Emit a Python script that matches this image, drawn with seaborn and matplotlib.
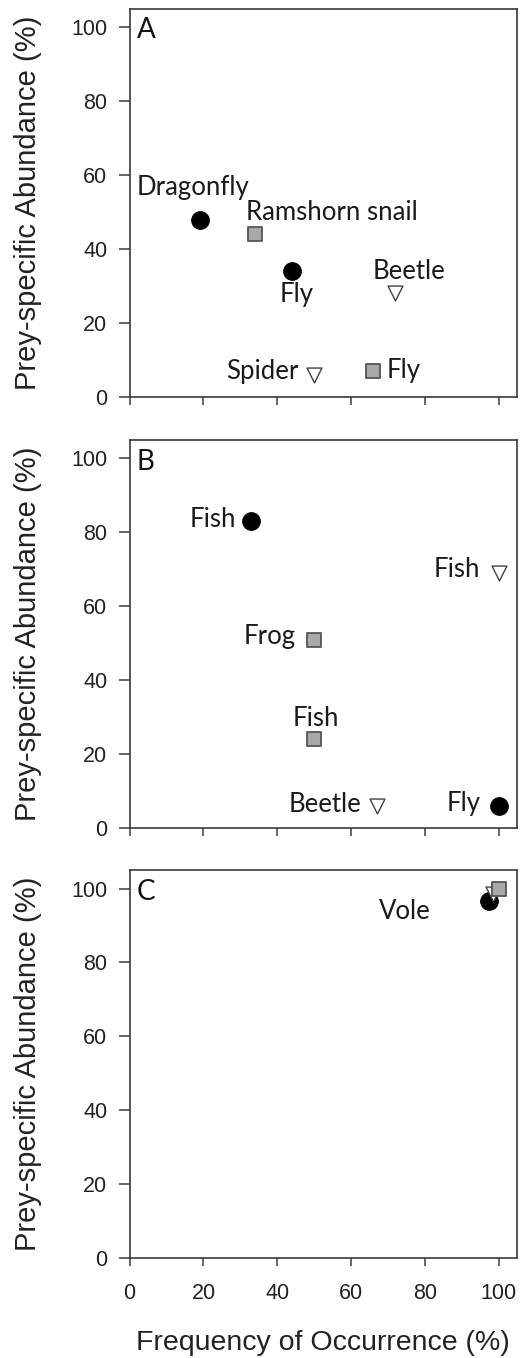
import numpy as np
import pandas as pd
import matplotlib.pyplot as plt
import seaborn as sns

# values
panel = ["A"] * 6 + ["B"] * 6 + ["C"] * 3
freq = [19, 34, 44, 72, 50, 66,
        33, 100, 50, 50, 67, 100,
        97.5, 98.5, 100]
abund = [48, 44, 34, 28, 6, 7,
         83, 69, 51, 24, 6, 6,
         96.5, 98.5, 100]
group = ["G1", "G2", "G1", "G3", "G3", "G2",
         "G1", "G3", "G2", "G2", "G3", "G1",
         "G1", "G3", "G2"]
prey = ["Dragonfly", "Ramshorn snail", "Fly", "Beetle", "Spider", "Fly",
        "Fish", "Fish", "Frog", "Fish", "Beetle", "Fly",
        "Vole", "", ""]

df = pd.DataFrame({"panel": panel, "freq": freq, "abund": abund,
                   "group": group, "prey": prey})

# label placement (offset in points from the marker, horizontal alignment)
label_pos = [(-5, 23, "center"), (-6.5, 15.5, "left"), (3, -17, "center"),
             (10, 16, "center"), (-11, 2, "right"), (9.5, 0.5, "left"),
             (-11, 1, "right"), (-13, 2.5, "right"), (-13, 2, "right"),
             (1.5, 15, "center"), (-11, 1, "right"), (-13, 1.5, "right"),
             (-61, -7, "center"), (0, 0, "center"), (0, 0, "center")]

sns.set_style("ticks")
plt.rcParams["font.family"] = ["Liberation Sans", "DejaVu Sans"]
plt.rcParams["axes.edgecolor"] = "#3a3a3a"
plt.rcParams["xtick.color"] = "#3a3a3a"
plt.rcParams["ytick.color"] = "#3a3a3a"

styles = {
    "G1": dict(marker="o", color="black", edgecolor="black", s=160, linewidth=0.8),
    "G3": dict(marker="v", color="white", edgecolor="#404040", s=115, linewidth=1.0),
    "G2": dict(marker="s", color="#a8a8a8", edgecolor="#555555", s=115, linewidth=1.3),
}

fig = plt.figure(figsize=(5.26, 13.58), dpi=100)
bottoms = {"A": 0.7077, "B": 0.3903, "C": 0.0736}
lab_font = ["Lato", "DejaVu Sans"]

for p in ["A", "B", "C"]:
    ax = fig.add_axes([0.2465, bottoms[p], 0.7365, 0.2857])
    sub = df[df["panel"] == p]
    for g in ["G1", "G3", "G2"]:
        part = sub[sub["group"] == g]
        if len(part):
            sns.scatterplot(data=part, x="freq", y="abund", ax=ax, legend=False,
                            zorder=3, **styles[g])
    for i, row in sub.iterrows():
        if row["prey"]:
            dx, dy, ha = label_pos[i]
            ax.annotate(row["prey"], (row["freq"], row["abund"]),
                        xytext=(dx, dy), textcoords="offset points",
                        ha=ha, va="center", fontsize=18.5, family=lab_font,
                        color="#1a1a1a")
    ax.set_xlim(0, 105)
    ax.set_ylim(0, 105)
    ax.set_xticks(np.arange(0, 101, 20))
    ax.set_yticks(np.arange(0, 101, 20))
    ax.tick_params(axis="y", length=8, width=1.1, pad=8, labelsize=15.5,
                   labelcolor="#222222")
    ax.tick_params(axis="x", length=6, width=1.1, pad=12, labelsize=15.5,
                   labelcolor="#222222")
    for sp in ax.spines.values():
        sp.set_linewidth(1.2)
    ax.set_ylabel("Prey-specific Abundance (%)", fontsize=21, color="#222222")
    ax.yaxis.set_label_coords(-0.225, 0.5)
    if p == "C":
        ax.set_xlabel("Frequency of Occurrence (%)", fontsize=20.5,
                      color="#222222")
        ax.xaxis.set_label_coords(0.5, -0.185)
        ax.xaxis.label.set_va("top")
    else:
        ax.set_xlabel("")
        ax.set_xticklabels([])
    ax.text(0.018, 0.978, p, transform=ax.transAxes, ha="left", va="top",
            fontsize=20, family=lab_font, color="#111111")

fig.savefig("out.png", dpi=100)
